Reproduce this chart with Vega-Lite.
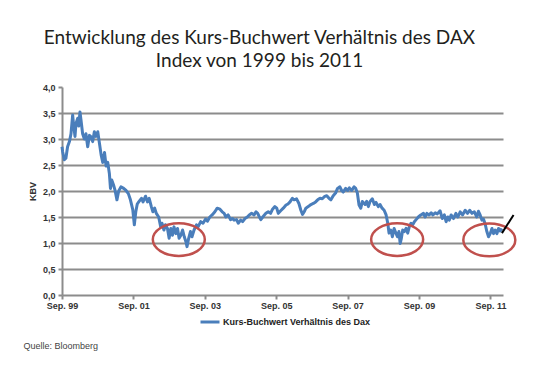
{
  "$schema": "https://vega.github.io/schema/vega-lite/v6.json",
  "width": 441,
  "height": 208,
  "autosize": {"type": "none"},
  "padding": {"left": 62, "top": 87, "right": 42, "bottom": 82},
  "background": "white",
  "config": {"view": {"stroke": null}},
  "title": {
    "text": ["Entwicklung des Kurs-Buchwert Verhältnis des DAX", "Index von 1999 bis 2011"],
    "font": "Lato",
    "fontSize": 19,
    "fontWeight": "normal",
    "color": "#231f20",
    "anchor": "middle",
    "dx": -23,
    "lineHeight": 23,
    "offset": 12
  },
  "datasets": {
    "kbv": [
      {"d": "1999-09-01", "v": 2.85}, {"d": "1999-09-08", "v": 2.75}, {"d": "1999-09-25", "v": 2.6}, {"d": "1999-10-11", "v": 2.63},
      {"d": "1999-10-28", "v": 2.85}, {"d": "1999-11-16", "v": 2.95}, {"d": "1999-12-02", "v": 3.1}, {"d": "1999-12-19", "v": 3.46},
      {"d": "1999-12-29", "v": 3.27}, {"d": "2000-01-12", "v": 3.05}, {"d": "2000-01-22", "v": 3.3}, {"d": "2000-02-09", "v": 3.4},
      {"d": "2000-02-19", "v": 3.25}, {"d": "2000-03-03", "v": 3.52}, {"d": "2000-03-13", "v": 3.37}, {"d": "2000-03-30", "v": 3.1},
      {"d": "2000-04-17", "v": 3.0}, {"d": "2000-05-03", "v": 3.1}, {"d": "2000-05-21", "v": 2.85}, {"d": "2000-06-08", "v": 3.07},
      {"d": "2000-06-24", "v": 3.04}, {"d": "2000-07-11", "v": 2.95}, {"d": "2000-07-28", "v": 3.14}, {"d": "2000-08-14", "v": 3.05},
      {"d": "2000-09-01", "v": 3.14}, {"d": "2000-09-18", "v": 2.92}, {"d": "2000-10-05", "v": 2.7}, {"d": "2000-10-22", "v": 2.55},
      {"d": "2000-11-09", "v": 2.74}, {"d": "2000-11-25", "v": 2.48}, {"d": "2000-12-12", "v": 2.55}, {"d": "2000-12-29", "v": 2.33},
      {"d": "2001-01-09", "v": 2.05}, {"d": "2001-01-22", "v": 2.21}, {"d": "2001-02-12", "v": 2.1}, {"d": "2001-02-25", "v": 2.01},
      {"d": "2001-03-16", "v": 1.83}, {"d": "2001-04-03", "v": 2.0}, {"d": "2001-04-26", "v": 2.08}, {"d": "2001-05-24", "v": 2.05},
      {"d": "2001-06-17", "v": 2.01}, {"d": "2001-07-11", "v": 1.95}, {"d": "2001-08-01", "v": 1.83}, {"d": "2001-08-25", "v": 1.64},
      {"d": "2001-09-10", "v": 1.35}, {"d": "2001-09-25", "v": 1.6}, {"d": "2001-10-10", "v": 1.75}, {"d": "2001-10-25", "v": 1.79},
      {"d": "2001-11-22", "v": 1.86}, {"d": "2001-12-08", "v": 1.79}, {"d": "2002-01-03", "v": 1.9}, {"d": "2002-01-23", "v": 1.79},
      {"d": "2002-02-09", "v": 1.86}, {"d": "2002-03-03", "v": 1.7}, {"d": "2002-03-19", "v": 1.6}, {"d": "2002-04-06", "v": 1.67},
      {"d": "2002-04-23", "v": 1.57}, {"d": "2002-05-17", "v": 1.5}, {"d": "2002-06-07", "v": 1.31}, {"d": "2002-06-20", "v": 1.38},
      {"d": "2002-07-10", "v": 1.25}, {"d": "2002-07-25", "v": 1.35}, {"d": "2002-08-15", "v": 1.28}, {"d": "2002-09-01", "v": 1.09},
      {"d": "2002-09-18", "v": 1.28}, {"d": "2002-10-05", "v": 1.15}, {"d": "2002-10-21", "v": 1.31}, {"d": "2002-11-09", "v": 1.18},
      {"d": "2002-11-26", "v": 1.28}, {"d": "2002-12-12", "v": 1.09}, {"d": "2002-12-30", "v": 1.15}, {"d": "2003-01-17", "v": 1.25},
      {"d": "2003-02-03", "v": 1.12}, {"d": "2003-02-19", "v": 1.03}, {"d": "2003-03-03", "v": 0.93}, {"d": "2003-03-20", "v": 1.09},
      {"d": "2003-04-07", "v": 1.22}, {"d": "2003-04-23", "v": 1.12}, {"d": "2003-05-14", "v": 1.25}, {"d": "2003-06-08", "v": 1.35},
      {"d": "2003-06-24", "v": 1.31}, {"d": "2003-07-21", "v": 1.41}, {"d": "2003-08-14", "v": 1.38}, {"d": "2003-09-09", "v": 1.46},
      {"d": "2003-09-29", "v": 1.42}, {"d": "2003-10-22", "v": 1.5}, {"d": "2003-11-15", "v": 1.54}, {"d": "2003-12-13", "v": 1.6},
      {"d": "2004-01-06", "v": 1.67}, {"d": "2004-02-03", "v": 1.65}, {"d": "2004-02-26", "v": 1.6}, {"d": "2004-03-17", "v": 1.57},
      {"d": "2004-04-04", "v": 1.5}, {"d": "2004-04-27", "v": 1.54}, {"d": "2004-05-21", "v": 1.45}, {"d": "2004-06-11", "v": 1.47},
      {"d": "2004-06-27", "v": 1.44}, {"d": "2004-07-22", "v": 1.45}, {"d": "2004-08-08", "v": 1.38}, {"d": "2004-09-02", "v": 1.44},
      {"d": "2004-09-22", "v": 1.41}, {"d": "2004-10-16", "v": 1.47}, {"d": "2004-11-09", "v": 1.5}, {"d": "2004-11-29", "v": 1.54},
      {"d": "2004-12-23", "v": 1.57}, {"d": "2005-01-17", "v": 1.54}, {"d": "2005-02-06", "v": 1.6}, {"d": "2005-02-23", "v": 1.57},
      {"d": "2005-03-10", "v": 1.51}, {"d": "2005-03-27", "v": 1.45}, {"d": "2005-04-20", "v": 1.51}, {"d": "2005-05-18", "v": 1.57},
      {"d": "2005-06-11", "v": 1.6}, {"d": "2005-07-05", "v": 1.57}, {"d": "2005-07-25", "v": 1.65}, {"d": "2005-08-18", "v": 1.7},
      {"d": "2005-09-06", "v": 1.67}, {"d": "2005-09-22", "v": 1.57}, {"d": "2005-10-16", "v": 1.62}, {"d": "2005-11-12", "v": 1.67},
      {"d": "2005-12-10", "v": 1.73}, {"d": "2005-12-30", "v": 1.75}, {"d": "2006-01-20", "v": 1.79}, {"d": "2006-02-13", "v": 1.86},
      {"d": "2006-03-03", "v": 1.83}, {"d": "2006-03-28", "v": 1.85}, {"d": "2006-04-21", "v": 1.76}, {"d": "2006-05-11", "v": 1.63},
      {"d": "2006-05-28", "v": 1.55}, {"d": "2006-06-14", "v": 1.6}, {"d": "2006-07-01", "v": 1.67}, {"d": "2006-07-25", "v": 1.7},
      {"d": "2006-08-22", "v": 1.74}, {"d": "2006-09-15", "v": 1.76}, {"d": "2006-10-09", "v": 1.79}, {"d": "2006-10-30", "v": 1.83},
      {"d": "2006-11-23", "v": 1.86}, {"d": "2006-12-16", "v": 1.85}, {"d": "2007-01-06", "v": 1.89}, {"d": "2007-01-31", "v": 1.91},
      {"d": "2007-02-23", "v": 1.86}, {"d": "2007-03-14", "v": 1.83}, {"d": "2007-04-07", "v": 1.91}, {"d": "2007-05-01", "v": 1.96},
      {"d": "2007-05-21", "v": 2.05}, {"d": "2007-06-14", "v": 2.08}, {"d": "2007-07-02", "v": 2.01}, {"d": "2007-07-18", "v": 1.98},
      {"d": "2007-08-12", "v": 2.05}, {"d": "2007-09-02", "v": 2.01}, {"d": "2007-09-19", "v": 2.06}, {"d": "2007-10-13", "v": 2.01},
      {"d": "2007-11-06", "v": 2.08}, {"d": "2007-11-23", "v": 2.05}, {"d": "2007-12-10", "v": 1.96}, {"d": "2007-12-27", "v": 1.73},
      {"d": "2008-01-14", "v": 1.67}, {"d": "2008-01-30", "v": 1.8}, {"d": "2008-02-27", "v": 1.74}, {"d": "2008-03-14", "v": 1.8},
      {"d": "2008-04-01", "v": 1.7}, {"d": "2008-04-18", "v": 1.8}, {"d": "2008-05-11", "v": 1.85}, {"d": "2008-06-01", "v": 1.74},
      {"d": "2008-06-18", "v": 1.78}, {"d": "2008-07-11", "v": 1.7}, {"d": "2008-07-29", "v": 1.74}, {"d": "2008-08-19", "v": 1.67},
      {"d": "2008-09-09", "v": 1.63}, {"d": "2008-09-29", "v": 1.54}, {"d": "2008-10-16", "v": 1.38}, {"d": "2008-10-29", "v": 1.19},
      {"d": "2008-11-16", "v": 1.25}, {"d": "2008-12-02", "v": 1.12}, {"d": "2008-12-20", "v": 1.28}, {"d": "2009-01-07", "v": 1.19},
      {"d": "2009-01-23", "v": 1.12}, {"d": "2009-02-07", "v": 1.22}, {"d": "2009-02-20", "v": 0.99}, {"d": "2009-03-04", "v": 1.09},
      {"d": "2009-03-18", "v": 1.25}, {"d": "2009-04-04", "v": 1.22}, {"d": "2009-04-21", "v": 1.28}, {"d": "2009-05-08", "v": 1.19},
      {"d": "2009-05-24", "v": 1.31}, {"d": "2009-06-11", "v": 1.38}, {"d": "2009-06-28", "v": 1.35}, {"d": "2009-07-15", "v": 1.41},
      {"d": "2009-08-02", "v": 1.45}, {"d": "2009-08-25", "v": 1.5}, {"d": "2009-09-19", "v": 1.54}, {"d": "2009-10-16", "v": 1.57},
      {"d": "2009-11-03", "v": 1.5}, {"d": "2009-11-20", "v": 1.57}, {"d": "2009-12-13", "v": 1.54}, {"d": "2010-01-03", "v": 1.58},
      {"d": "2010-01-21", "v": 1.54}, {"d": "2010-02-14", "v": 1.58}, {"d": "2010-03-07", "v": 1.56}, {"d": "2010-04-04", "v": 1.62},
      {"d": "2010-04-27", "v": 1.47}, {"d": "2010-05-18", "v": 1.54}, {"d": "2010-06-05", "v": 1.41}, {"d": "2010-06-22", "v": 1.5},
      {"d": "2010-07-08", "v": 1.44}, {"d": "2010-07-26", "v": 1.54}, {"d": "2010-08-19", "v": 1.47}, {"d": "2010-09-13", "v": 1.57},
      {"d": "2010-10-03", "v": 1.5}, {"d": "2010-10-27", "v": 1.6}, {"d": "2010-11-20", "v": 1.54}, {"d": "2010-12-17", "v": 1.63},
      {"d": "2011-01-10", "v": 1.57}, {"d": "2011-02-01", "v": 1.63}, {"d": "2011-02-25", "v": 1.57}, {"d": "2011-03-21", "v": 1.6},
      {"d": "2011-04-15", "v": 1.5}, {"d": "2011-05-02", "v": 1.61}, {"d": "2011-05-19", "v": 1.54}, {"d": "2011-06-06", "v": 1.44},
      {"d": "2011-06-22", "v": 1.46}, {"d": "2011-07-09", "v": 1.37}, {"d": "2011-07-27", "v": 1.22}, {"d": "2011-08-13", "v": 1.12},
      {"d": "2011-08-30", "v": 1.18}, {"d": "2011-09-17", "v": 1.28}, {"d": "2011-10-03", "v": 1.18}, {"d": "2011-10-20", "v": 1.25},
      {"d": "2011-11-07", "v": 1.18}, {"d": "2011-11-23", "v": 1.28}, {"d": "2011-12-11", "v": 1.23}, {"d": "2011-12-28", "v": 1.28}
    ],
    "ellipses": [
      {"d": "2002-12-09", "v": 1.067},
      {"d": "2009-01-20", "v": 1.067},
      {"d": "2011-08-21", "v": 1.06}
    ],
    "arrow": [
      {"d": "2011-12-28", "v": 1.19, "d2": "2012-04-25", "v2": 1.54}
    ]
  },
  "encoding": {
    "x": {
      "field": "d",
      "type": "temporal",
      "scale": {
        "type": "utc",
        "nice": false,
        "domain": [
          {"year": 1999, "month": 9, "date": 1, "utc": true},
          {"year": 2012, "month": 1, "date": 8, "utc": true}
        ]
      },
      "axis": {
        "values": [
          {"year": 1999, "month": 9, "date": 1, "utc": true},
          {"year": 2001, "month": 9, "date": 1, "utc": true},
          {"year": 2003, "month": 9, "date": 1, "utc": true},
          {"year": 2005, "month": 9, "date": 1, "utc": true},
          {"year": 2007, "month": 9, "date": 1, "utc": true},
          {"year": 2009, "month": 9, "date": 1, "utc": true},
          {"year": 2011, "month": 9, "date": 1, "utc": true}
        ],
        "labelExpr": "'Sep. ' + utcFormat(datum.value, '%y')",
        "labelFont": "Liberation Sans",
        "labelFontWeight": "bold",
        "labelFontSize": 9,
        "labelColor": "#333333",
        "labelPadding": 2,
        "labelOverlap": false,
        "labelFlush": false,
        "grid": false,
        "domainColor": "#8c8c8c",
        "domainWidth": 2,
        "tickColor": "#8c8c8c",
        "tickWidth": 2,
        "tickSize": 4,
        "title": "Quelle: Bloomberg",
        "titleFont": "Liberation Sans",
        "titleFontWeight": "normal",
        "titleFontSize": 9,
        "titleColor": "#444444",
        "titleAnchor": "start",
        "titleAlign": "left",
        "titleBaseline": "middle",
        "titleX": -39,
        "titleY": 50
      }
    },
    "y": {
      "field": "v",
      "type": "quantitative",
      "scale": {"domain": [0, 4], "nice": false, "zero": true},
      "axis": {
        "values": [0, 0.5, 1, 1.5, 2, 2.5, 3, 3.5, 4],
        "labelExpr": "replace(format(datum.value, '.1f'), '.', ',')",
        "labelFont": "Liberation Sans",
        "labelFontWeight": "bold",
        "labelFontSize": 9,
        "labelColor": "#333333",
        "labelPadding": 3,
        "domainColor": "#8c8c8c",
        "domainWidth": 2,
        "tickColor": "#8c8c8c",
        "tickWidth": 2,
        "tickSize": 4,
        "grid": true,
        "gridColor": "#8c8c8c",
        "gridWidth": 2,
        "gridOpacity": {"condition": {"test": "datum.value == 4 || datum.value == 0", "value": 0}, "value": 1},
        "title": "KBV",
        "titleFont": "Liberation Sans",
        "titleFontWeight": "bold",
        "titleFontSize": 9,
        "titleColor": "#333333",
        "titlePadding": 5
      }
    }
  },
  "layer": [
    {
      "data": {"name": "kbv"},
      "mark": {"type": "line", "strokeWidth": 3, "strokeJoin": "round"},
      "encoding": {
        "color": {
          "datum": "Kurs-Buchwert Verhältnis des Dax",
          "scale": {"range": ["#4a7ebb"]},
          "legend": {
            "orient": "none",
            "legendX": 137,
            "legendY": 224,
            "direction": "horizontal",
            "title": null,
            "symbolType": "stroke",
            "symbolStrokeWidth": 3,
            "symbolSize": 361,
            "labelFont": "Liberation Sans",
            "labelFontWeight": "bold",
            "labelFontSize": 9,
            "labelColor": "#222222",
            "labelOffset": 2,
            "padding": 0
          }
        }
      }
    },
    {
      "data": {"name": "ellipses"},
      "mark": {
        "type": "point",
        "shape": "M -1 0 A 1 0.63 0 1 0 1 0 A 1 0.63 0 1 0 -1 0 Z",
        "size": 2704,
        "filled": false,
        "stroke": "#c0504d",
        "strokeWidth": 2.5,
        "opacity": 1
      }
    },
    {
      "data": {"name": "arrow"},
      "mark": {"type": "rule", "color": "black", "strokeWidth": 2},
      "encoding": {
        "x2": {"field": "d2"},
        "y2": {"field": "v2"}
      }
    }
  ]
}
